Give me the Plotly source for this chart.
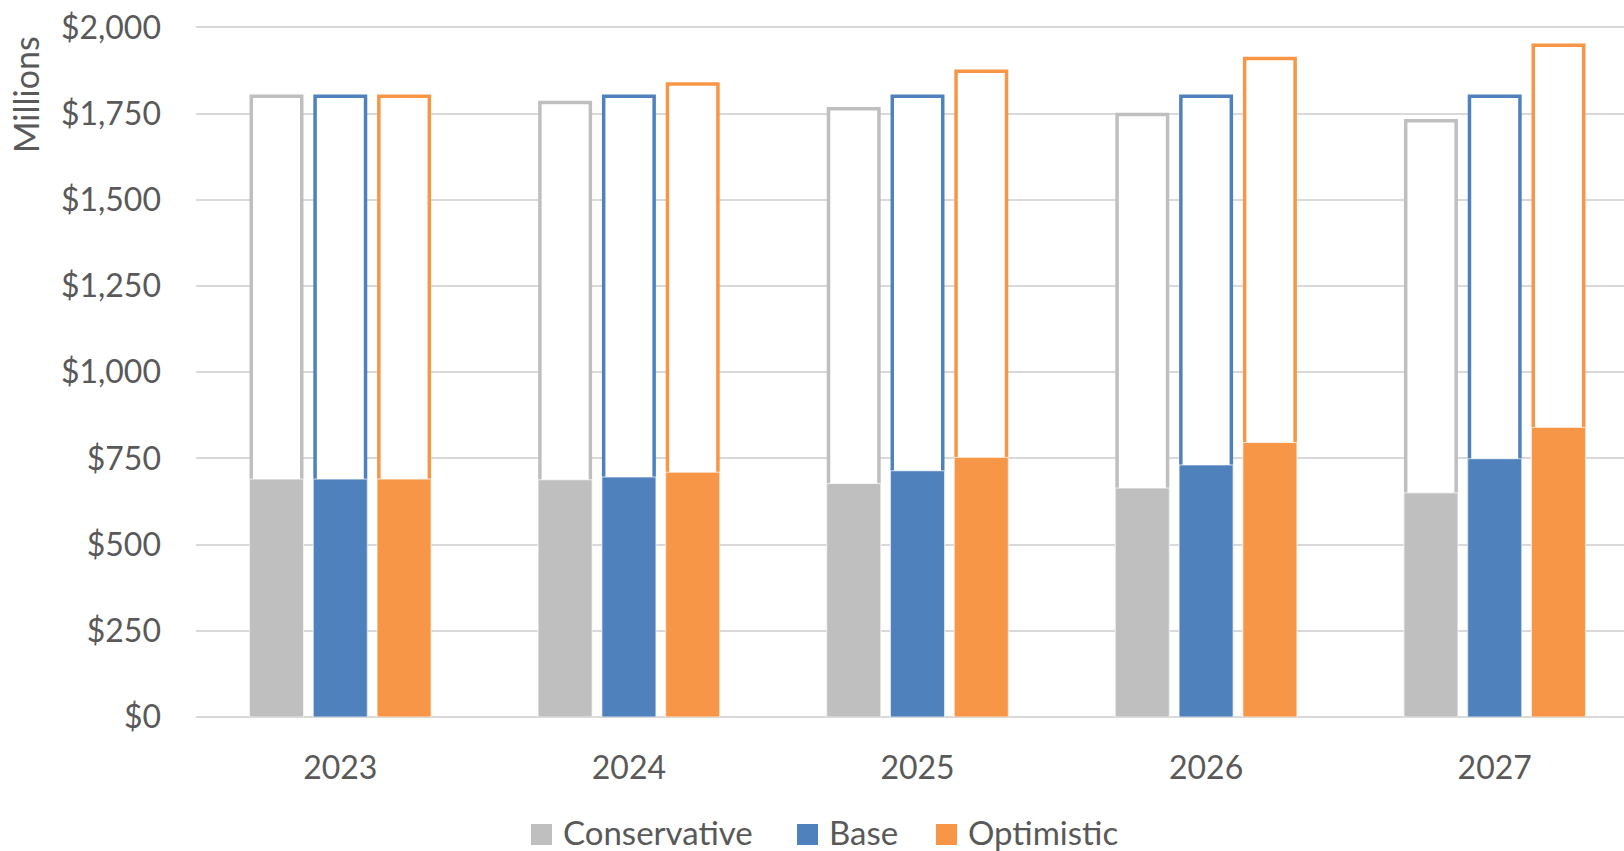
import plotly.graph_objects as go

# Scenario data (USD millions)
years = ["2023", "2024", "2025", "2026", "2027"]
scenarios = ["Conservative", "Base", "Optimistic"]

conservative_total = [1800, 1782, 1764, 1747, 1729]
conservative_part = [690, 688, 677, 664, 650]
base_total = [1800, 1800, 1800, 1800, 1800]
base_part = [690, 696, 714, 731, 749]
optimistic_total = [1800, 1836, 1873, 1910, 1948]
optimistic_part = [690, 710, 753, 796, 840]

y_tick_vals = [0, 250, 500, 750, 1000, 1250, 1500, 1750, 2000]
y_tick_text = ["$0", "$250", "$500", "$750", "$1,000", "$1,250", "$1,500", "$1,750", "$2,000"]

colors = ["#BFBFBF", "#4F81BD", "#F79646"]
totals = [conservative_total, base_total, optimistic_total]
parts = [conservative_part, base_part, optimistic_part]

FONT = "Lato"
TEXT = "#595959"
GRID = "#D9D9D9"

W, H = 1624, 851
ML, MR, MT, MB = 196, 0, 26, 134
PLOT_W = W - ML - MR
PLOT_H = H - MT - MB

# bar geometry in category units
step = 0.221
fill_w = 0.187
line_w = 3.5
cat_px = 288.6
outline_w = fill_w - line_w / cat_px

fig = go.Figure()

# outlined total bars (behind)
for i, name in enumerate(scenarios):
    c = (i - 1) * step
    fig.add_trace(go.Bar(
        x=years, y=totals[i], name=name,
        width=outline_w, offset=c - outline_w / 2,
        marker=dict(color="white", line=dict(color=colors[i], width=line_w)),
        showlegend=False, cliponaxis=False, hoverinfo="x+y+name",
    ))

# filled portion bars (front)
for i, name in enumerate(scenarios):
    c = (i - 1) * step
    fig.add_trace(go.Bar(
        x=years, y=parts[i], name=name,
        width=fill_w, offset=c - fill_w / 2,
        marker=dict(color=colors[i], line=dict(color="rgba(255,255,255,0.7)", width=1)),
        showlegend=False, hoverinfo="x+y+name",
    ))


def px_x(px):
    return (px - ML) / PLOT_W


def px_y(py):
    return (H - MB - py) / PLOT_H


# legend: swatches and labels below the axis
legend_items = [
    (531, 561, "Conservative"),
    (797, 827, "Base"),
    (936, 966, "Optimistic"),
]
shapes = []
annotations = []
for (sq_x, tx, label), col in zip(legend_items, colors):
    shapes.append(dict(
        type="rect", xref="paper", yref="paper",
        x0=px_x(sq_x), x1=px_x(sq_x + 21), y0=px_y(845), y1=px_y(824),
        fillcolor=col, line=dict(width=0),
    ))
    annotations.append(dict(
        xref="paper", yref="paper", x=px_x(tx), y=px_y(832),
        xanchor="left", yanchor="middle", text=label, showarrow=False,
        font=dict(family=FONT, size=33, color=TEXT),
    ))

# axis title
annotations.append(dict(
    xref="paper", yref="paper", x=px_x(26), y=px_y(95),
    xanchor="center", yanchor="middle", text="Millions", textangle=-90,
    showarrow=False, font=dict(family=FONT, size=34, color=TEXT),
))

fig.update_layout(
    width=W, height=H,
    margin=dict(l=ML, r=MR, t=MT, b=MB, pad=0),
    barmode="overlay",
    plot_bgcolor="white", paper_bgcolor="white",
    font=dict(family=FONT, size=32, color=TEXT),
    showlegend=False,
    shapes=shapes,
    annotations=annotations,
    xaxis=dict(
        type="category", range=[-0.5, 4.448],
        showgrid=False, showline=False, zeroline=False,
        ticks="", ticklabelstandoff=29,
        tickfont=dict(family=FONT, size=32, color=TEXT),
    ),
    yaxis=dict(
        range=[0, 2004], tickvals=y_tick_vals, ticktext=y_tick_text,
        showgrid=True, gridcolor=GRID, gridwidth=1.8,
        zeroline=True, zerolinecolor=GRID, zerolinewidth=1.8,
        showline=False, ticks="", ticklabelstandoff=34,
        tickfont=dict(family=FONT, size=32, color=TEXT),
    ),
)

fig.write_html("out.html")
